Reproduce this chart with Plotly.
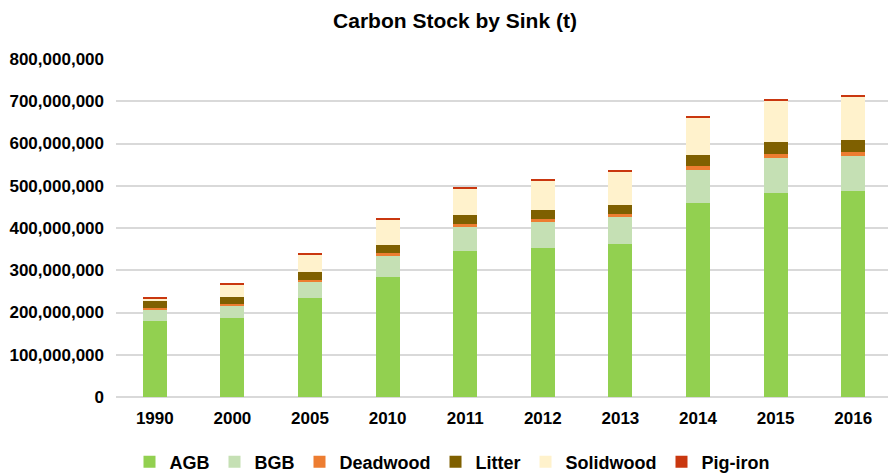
import plotly.graph_objects as go

years = ["1990", "2000", "2005", "2010", "2011", "2012", "2013", "2014", "2015", "2016"]
agb = [179e6, 186e6, 234e6, 285e6, 345.5e6, 353e6, 363e6, 458.5e6, 482e6, 487.5e6]
bgb = [27e6, 30e6, 39e6, 48e6, 57e6, 61.5e6, 64e6, 79.5e6, 84e6, 82.5e6]
deadwood = [5e6, 5e6, 4.6e6, 7e6, 6.5e6, 7e6, 6e6, 8.5e6, 9.5e6, 11e6]
litter = [16e6, 16.5e6, 19e6, 20.5e6, 22e6, 20.5e6, 22.5e6, 26.5e6, 27.5e6, 28e6]
solidwood = [5e6, 27.5e6, 40e6, 58.5e6, 62e6, 69e6, 78e6, 89e6, 98e6, 102.5e6]
pig_iron = [5e6, 5e6, 4e6, 4.5e6, 5e6, 5e6, 4e6, 4e6, 3.6e6, 4e6]

series = [
    ("AGB", agb, "#92D050"),
    ("BGB", bgb, "#C5E0B4"),
    ("Deadwood", deadwood, "#ED7D31"),
    ("Litter", litter, "#7F6000"),
    ("Solidwood", solidwood, "#FFF2CC"),
    ("Pig-iron", pig_iron, "#C9370F"),
]

fig = go.Figure()
for name, vals, color in series:
    fig.add_trace(go.Bar(x=years, y=vals, name=name, marker_color=color,
                         marker_line_width=0))

font_family = "Liberation Sans, Arial, sans-serif"
W, H = 896, 475
off = 8  # page body margin offset
plot_left, plot_right = 116 - off, 892 - off
plot_top, plot_bottom = 59 - off, 397 - off
plot_h = plot_bottom - plot_top

fig.update_layout(
    barmode="stack",
    bargap=0.69,
    width=W, height=H,
    paper_bgcolor="white", plot_bgcolor="white",
    margin=dict(l=plot_left, r=W - plot_right, t=plot_top, b=H - plot_bottom,
                autoexpand=False),
    title=dict(text="<b>Carbon Stock by Sink (t)</b>", x=(455 - off) / W, xanchor="center",
               y=1 - (21 - off) / H, yanchor="middle",
               font=dict(family=font_family, size=21, color="#000000")),
    font=dict(family=font_family, color="#000000"),
    legend=dict(orientation="h", xref="container", yref="paper",
                x=(452 - off) / W, xanchor="center",
                y=-(462 - off - plot_bottom) / plot_h, yanchor="middle",
                font=dict(family=font_family, size=18, weight="bold", color="#000000"),
                itemwidth=30, traceorder="normal"),
    xaxis=dict(showgrid=False, showline=False, ticks="", ticklabelstandoff=9,
               tickfont=dict(family=font_family, size=17, weight="bold", color="#000000")),
    yaxis=dict(range=[0, 800e6], dtick=100e6, tickformat=",d",
               showgrid=True, gridcolor="#D9D9D9", gridwidth=2,
               zeroline=True, zerolinecolor="#D9D9D9", zerolinewidth=2,
               showline=False, ticks="", ticklabelstandoff=11,
               tickfont=dict(family=font_family, size=17, weight="bold", color="#000000")),
)

fig.write_html("out.html")
